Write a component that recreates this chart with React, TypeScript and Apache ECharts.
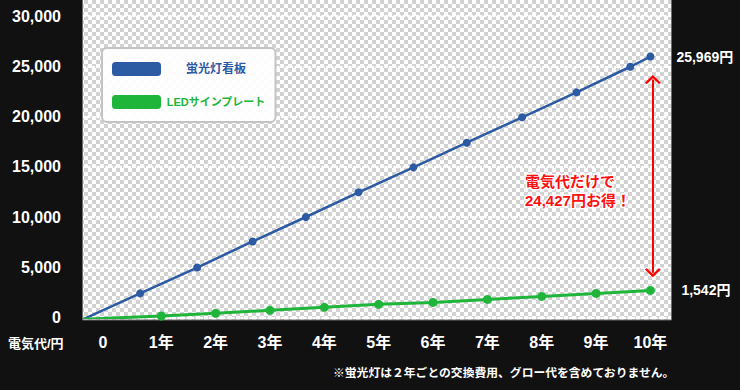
import React, { useEffect, useRef } from "react";
import * as echarts from "echarts";

// ---- data ----
const seriesNames = ["蛍光灯看板", "LEDサインプレート"];
const yearTicks = [0, 1, 2, 3, 4, 5, 6, 7, 8, 9, 10];
const yearLabels = ["0", "1年", "2年", "3年", "4年", "5年", "6年", "7年", "8年", "9年", "10年"];
const startYear = -0.441;
const startCost = -180;
const fluorescentYears = [0.61, 1.66, 2.68, 3.66, 4.63, 5.64, 6.62, 7.64, 8.64, 9.63, 10];
const fluorescentCost = [2400, 4970, 7570, 10000, 12460, 14940, 17390, 19920, 22400, 24950, 25969];
const ledYears = [1, 2, 3, 4, 5, 6, 7, 8, 9, 10];
const ledCost = [150, 420, 710, 1010, 1310, 1500, 1800, 2100, 2400, 2690];
const fluorescentTotal = 25969;
const ledTotal = 1542;
const arrowYear = 10.045;
const arrowTop = 23680;
const arrowBottom = 4450;
const footnote = "※蛍光灯は２年ごとの交換費用、グロー代を含めておりません。";
const yAxisTitle = "電気代/円";

const FONT = '"Liberation Sans", "Noto Sans CJK JP", sans-serif';
const BLUE = "#2c5aa3";
const GREEN = "#1fb53a";

const fmt = (n: number) => n.toLocaleString("en-US");

export default function App() {
  const ref = useRef<HTMLDivElement>(null);
  useEffect(() => {
    if (!ref.current) return;
    const chart = echarts.init(ref.current, null, { renderer: "svg" });

    const cv = document.createElement("canvas");
    cv.width = 8;
    cv.height = 8;
    const ctx = cv.getContext("2d")!;
    ctx.fillStyle = "#d2d2d2";
    ctx.fillRect(0, 0, 8, 8);
    ctx.fillStyle = "#ffffff";
    ctx.fillRect(0, 0, 4, 4);
    ctx.fillRect(4, 4, 4, 4);

    const blueData: any[] = [{ value: [startYear, startCost], symbol: "none" }].concat(
      fluorescentYears.map((x, i) => ({ value: [x, fluorescentCost[i]] })) as any
    );
    const greenData: any[] = [{ value: [startYear, startCost], symbol: "none" }].concat(
      ledYears.map((x, i) => ({ value: [x, ledCost[i]] })) as any
    );

    const chevron = "path://M5,0L10,7.2L8.8,8.4L5,3L1.2,8.4L0,7.2Z";

    chart.setOption({
      animation: false,
      backgroundColor: "#111111",
      textStyle: { fontFamily: FONT },
      grid: { left: 83, right: 69, top: 16, bottom: 72.5 },
      legend: {
        orient: "vertical",
        left: 102,
        top: 48,
        itemWidth: 49,
        itemHeight: 14,
        icon: "roundRect",
        itemGap: 19,
        padding: [14, 10, 13, 10],
        backgroundColor: "rgba(255,255,255,0.93)",
        borderColor: "#c4c4c4",
        borderWidth: 2,
        borderRadius: 5,
        selectedMode: false,
        formatter: (name: string) => `{a|${name}}`,
        textStyle: {
          fontSize: 12,
          fontWeight: "bold",
          fontFamily: FONT,
          rich: { a: { width: 100, align: "center" } },
        },
        data: [
          { name: seriesNames[0], textStyle: { color: BLUE, fontSize: 12 } },
          { name: seriesNames[1], textStyle: { color: GREEN, fontSize: 11 } },
        ],
      },
      xAxis: {
        type: "value",
        min: startYear,
        max: 10.379,
        axisLine: { show: false },
        axisTick: { show: false },
        splitLine: { show: false },
        axisLabel: {
          customValues: yearTicks,
          margin: 17,
          color: "#ffffff",
          fontSize: 16,
          fontWeight: "bold",
          fontFamily: FONT,
          formatter: (v: number) => {
            const i = yearTicks.indexOf(Math.round(v));
            if (i === 0) return `{z|${yearLabels[0]}}`;
            return i >= 0 ? yearLabels[i] : "";
          },
          rich: { z: { padding: [0, 8, 0, 0], fontSize: 16, fontWeight: "bold", color: "#fff", fontFamily: FONT } },
        },
      },
      yAxis: {
        type: "value",
        min: 0,
        max: 30000,
        interval: 5000,
        axisLine: { show: false },
        axisTick: { show: false },
        splitLine: { show: true, lineStyle: { color: "#ffffff", width: 2, type: [3, 1.5] } },
        axisLabel: {
          margin: 22,
          color: "#ffffff",
          fontSize: 16,
          fontWeight: "bold",
          fontFamily: FONT,
          padding: [3, 0, 0, 0],
          formatter: (v: number) => fmt(v),
        },
      },
      series: [
        {
          name: seriesNames[0],
          type: "line",
          data: blueData,
          color: BLUE,
          symbol: "circle",
          symbolSize: 8,
          lineStyle: { color: BLUE, width: 2.5 },
          itemStyle: { color: BLUE },
          z: 3,
          endLabel: {
            show: true,
            distance: 26,
            formatter: () => `${fmt(fluorescentTotal)}円`,
            color: "#ffffff",
            fontSize: 14,
            fontWeight: "bold",
            fontFamily: FONT,
          },
        },
        {
          name: seriesNames[1],
          type: "line",
          data: greenData,
          color: GREEN,
          symbol: "circle",
          symbolSize: 9,
          lineStyle: { color: GREEN, width: 3 },
          itemStyle: { color: GREEN },
          z: 4,
          endLabel: {
            show: true,
            distance: 31,
            formatter: () => `${fmt(ledTotal)}円`,
            color: "#ffffff",
            fontSize: 14,
            fontWeight: "bold",
            fontFamily: FONT,
          },
          markLine: {
            silent: true,
            symbol: [chevron, chevron],
            symbolSize: [16, 9],
            label: { show: false },
            lineStyle: { color: "#ff0000", width: 2, type: "solid" },
            data: [[{ coord: [arrowYear, arrowTop] }, { coord: [arrowYear, arrowBottom] }]],
          },
        },
      ],
      graphic: {
        elements: [
          {
            type: "rect",
            z: -10,
            silent: true,
            shape: { x: 82.5, y: -2, width: 589, height: 322 },
            style: {
              fill: { image: cv, repeat: "repeat", imageWidth: 8, imageHeight: 8 } as any,
              stroke: "#6e6e6e",
              lineWidth: 1,
            },
          },
          {
            type: "text",
            z: 10,
            x: 525,
            y: 172,
            style: {
              text: `電気代だけで\n${fmt(fluorescentTotal - ledTotal)}円お得！`,
              fill: "#ff1010",
              font: `bold 15px ${FONT}`,
              lineHeight: 19,
              stroke: "#ffffff",
              lineWidth: 3,
              verticalAlign: "top",
            },
          },
          {
            type: "text",
            x: 8,
            y: 343,
            style: {
              text: yAxisTitle,
              fill: "#ffffff",
              font: `bold 13px ${FONT}`,
              verticalAlign: "middle",
            },
          },
          {
            type: "text",
            x: 333,
            y: 373,
            style: {
              text: footnote,
              fill: "#ffffff",
              font: `bold 11.8px ${FONT}`,
              verticalAlign: "middle",
            },
          },
        ],
      },
    });
    return () => chart.dispose();
  }, []);
  return (
    <div
      ref={ref}
      style={{ position: "fixed", left: 0, top: 0, width: 740, height: 390, background: "#111111" }}
    />
  );
}
